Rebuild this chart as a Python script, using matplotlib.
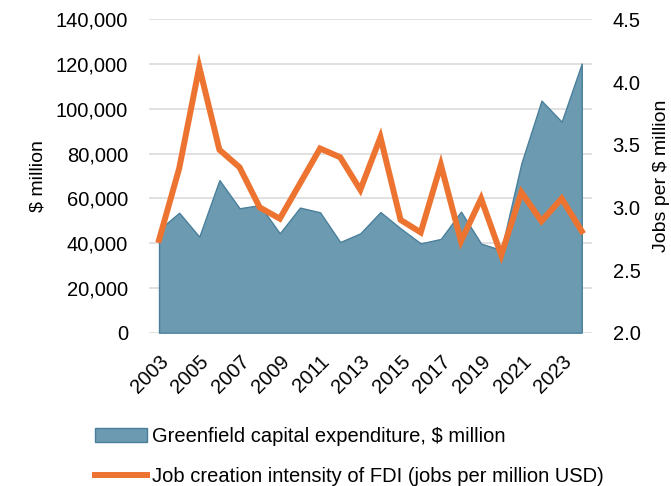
import numpy as np
import matplotlib.pyplot as plt
from matplotlib.ticker import FuncFormatter, MultipleLocator
from matplotlib.patches import Patch
from matplotlib.lines import Line2D

plt.rcParams['font.family'] = ['Liberation Sans', 'DejaVu Sans']

# Dados anuais
anos = list(range(2003, 2025))

# Investimento greenfield, $ milhões
capex = [46000, 53600, 42900, 68200, 55600, 57000, 44400, 55900, 53800, 40500, 44400,
         53900, 46600, 39900, 41900, 54100, 39800, 36900, 75700, 103700, 94300, 120300]

# Empregos por milhão de USD
empregos = [2.74, 3.31, 4.12, 3.46, 3.32, 3.00, 2.91, 3.19, 3.47, 3.40, 3.14,
            3.56, 2.90, 2.80, 3.34, 2.73, 3.07, 2.62, 3.12, 2.89, 3.07, 2.81]

rotulos_x = [str(a) for a in anos[::2]]

cor_area = '#6C9BB1'
cor_borda = '#4A7F9B'
cor_linha = '#ED7331'

fig = plt.figure(figsize=(6.71, 4.86), dpi=100)
ax = fig.add_axes([0.222, 0.3155, 0.66, 0.6445])
ax2 = ax.twinx()

ax.fill_between(anos, capex, 0, facecolor=cor_area, edgecolor=cor_borda, linewidth=1.0, zorder=2)
ax2.plot(anos, empregos, color=cor_linha, linewidth=4.3, solid_joinstyle='miter', zorder=3)

# eixo esquerdo
ax.set_ylim(0, 140000)
ax.yaxis.set_major_locator(MultipleLocator(20000))
ax.yaxis.set_major_formatter(FuncFormatter(lambda v, p: f'{int(v):,}'))
ax.grid(axis='y', color='#D9D9D9', linewidth=1.1, zorder=0)
ax.set_axisbelow(True)
ax.set_ylabel('$ million', fontsize=14, labelpad=7)

# eixo direito
ax2.set_ylim(2.0, 4.5)
ax2.yaxis.set_major_locator(MultipleLocator(0.5))
ax2.yaxis.set_major_formatter(FuncFormatter(lambda v, p: f'{v:.1f}'))
ax2.set_ylabel('Jobs per $ million', fontsize=14, rotation=90, labelpad=9)

ax.set_xlim(2002.5, 2024.5)
ax.set_xticks(anos[::2])
ax.set_xticklabels(rotulos_x, rotation=45, ha='right', rotation_mode='anchor')

for a in (ax, ax2):
    for s in a.spines.values():
        s.set_visible(False)
    a.tick_params(length=0, labelsize=14.5, colors='black')
ax.tick_params(axis='y', pad=15)
ax2.tick_params(axis='y', pad=15)
ax.tick_params(axis='x', pad=14)

handles = [Patch(facecolor=cor_area, edgecolor=cor_borda, linewidth=1.0),
           Line2D([0], [0], color=cor_linha, linewidth=4.3)]
labels = ['Greenfield capital expenditure, $ million',
          'Job creation intensity of FDI (jobs per million USD)']
fig.legend(handles, labels, loc='upper left', bbox_to_anchor=(0.1416, 0.121), frameon=False,
           fontsize=14.5, handlelength=2.6, handletextpad=0.25, labelspacing=1.05,
           borderaxespad=0, borderpad=0)

plt.savefig('out.png', dpi=100)
